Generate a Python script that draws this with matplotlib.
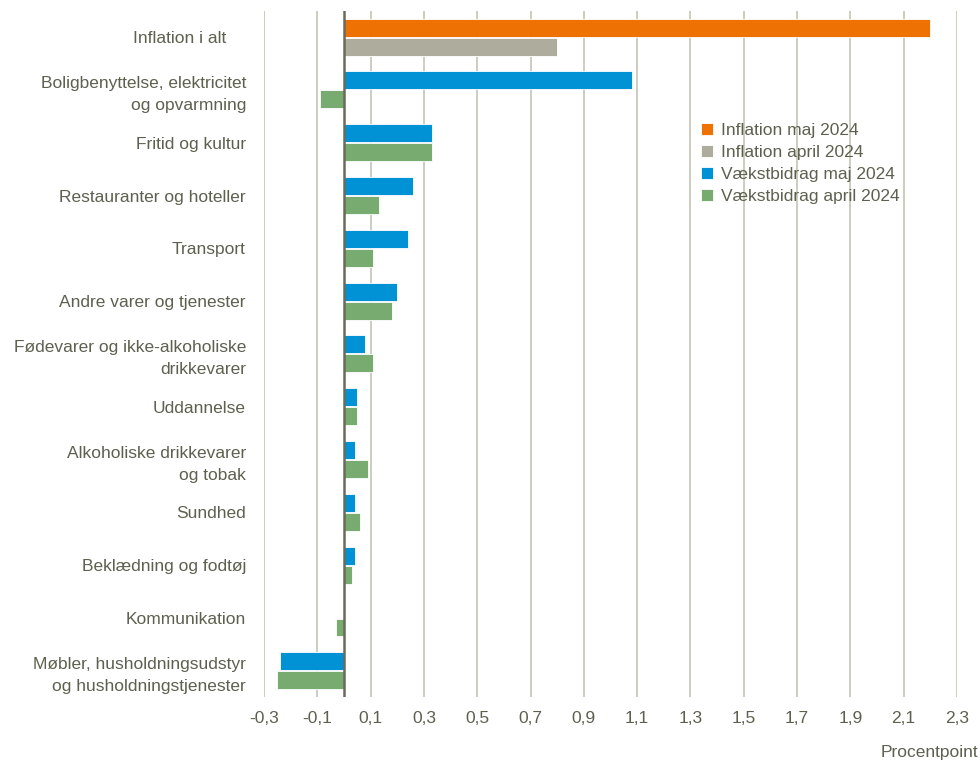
import matplotlib.pyplot as plt
import numpy as np

plt.rcParams['font.family'] = ['Liberation Sans', 'DejaVu Sans']

categories = ["Inflation i alt    ",
              "Boligbenyttelse, elektricitet\nog opvarmning",
              "Fritid og kultur",
              "Restauranter og hoteller",
              "Transport",
              "Andre varer og tjenester",
              "Fødevarer og ikke-alkoholiske\ndrikkevarer",
              "Uddannelse",
              "Alkoholiske drikkevarer\nog tobak",
              "Sundhed",
              "Beklædning og fodtøj",
              "Kommunikation",
              "Møbler, husholdningsudstyr\nog husholdningstjenester"]

inflation_maj = [2.20]
inflation_april = [0.80]
vaekst_maj = [1.08, 0.33, 0.26, 0.24, 0.20, 0.08, 0.05, 0.04, 0.04, 0.04, 0.0, -0.24]
vaekst_april = [-0.09, 0.33, 0.13, 0.11, 0.18, 0.11, 0.05, 0.09, 0.06, 0.03, -0.03, -0.25]

xticks = [-0.3, -0.1, 0.1, 0.3, 0.5, 0.7, 0.9, 1.1, 1.3, 1.5, 1.7, 1.9, 2.1, 2.3]

text_col = '#5e604f'
c_orange = '#ee7203'
c_grey = '#aeac9c'
c_blue = '#0092d4'
c_green = '#78ab6f'
fs = 12.5

fig = plt.figure(figsize=(9.8, 7.62), dpi=100)
ax = fig.add_axes([0.2694, 0.085, 0.7071, 0.901])

h = 0.34
off = 0.18
y_inf = np.array([0])
y_v = np.arange(1, len(categories))

ax.barh(y_inf - off, inflation_maj, height=h, color=c_orange, edgecolor='white', linewidth=0.6, label='Inflation maj 2024', zorder=3)
ax.barh(y_inf + off, inflation_april, height=h, color=c_grey, edgecolor='white', linewidth=0.6, label='Inflation april 2024', zorder=3)
ax.barh(y_v - off, vaekst_maj, height=h, color=c_blue, edgecolor='white', linewidth=0.6, label='Vækstbidrag maj 2024', zorder=3)
ax.barh(y_v + off, vaekst_april, height=h, color=c_green, edgecolor='white', linewidth=0.6, label='Vækstbidrag april 2024', zorder=3)

ax.set_xlim(-0.3, 2.3)
ax.set_ylim(len(categories) - 0.5, -0.5)
ax.set_xticks(xticks)
ax.set_xticklabels([f"{t:.1f}".replace('.', ',') for t in xticks])
ax.set_yticks(np.arange(len(categories)))
ax.set_yticklabels(categories, linespacing=1.55)

for t in xticks:
    ax.axvline(t, color='#c4c4b4', linewidth=1.2, zorder=1)
ax.axvline(0, color='#6b6b5b', linewidth=1.8, zorder=4)

for s in ax.spines.values():
    s.set_visible(False)
ax.tick_params(axis='both', length=0, colors=text_col, labelsize=fs)
ax.tick_params(axis='y', pad=13)
ax.tick_params(axis='x', pad=10)

leg = ax.legend(loc='upper left', bbox_to_anchor=(0.62, 0.847), frameon=False,
                fontsize=fs, handlelength=0.7, handleheight=0.7,
                handletextpad=0.5, labelspacing=0.4, borderaxespad=0)
for txt in leg.get_texts():
    txt.set_color(text_col)

fig.text(0.998, 0.003, 'Procentpoint', ha='right', va='bottom', color=text_col, fontsize=fs)

fig.savefig('out.png', dpi=100)
